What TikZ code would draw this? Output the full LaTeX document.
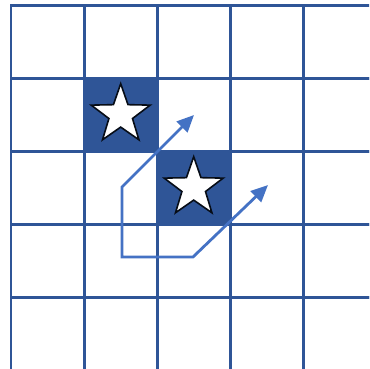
\documentclass[tikz,border=0pt]{standalone}
\usetikzlibrary{matrix,shapes.geometric,arrows.meta}

\definecolor{gridblue}{HTML}{2F5597}
\definecolor{moveblue}{HTML}{4472C4}

\begin{document}
\begin{tikzpicture}[x=1pt,y=-1pt,
    starmark/.style={star, star points=5, star point ratio=2.5,
        minimum size=62pt, inner sep=0pt, fill=white, draw=black!85!gridblue, line width=1.6pt},
    move/.style={draw=moveblue, line width=2.8pt, line join=miter,
        {Triangle[length=17pt,width=15pt]}-{Triangle[length=17pt,width=15pt]}}]
\useasboundingbox (0,0) rectangle (369,369);
\clip (0,0) rectangle (369,369);

    % Board
\matrix (G) [matrix of nodes, nodes in empty cells, inner sep=0pt,
nodes={minimum size=73pt, draw=gridblue, line width=2.6pt, outer sep=0pt, inner sep=0pt},
column sep=-2.6pt, row sep=-2.6pt, anchor=north west] at (9.7,3.7)
{
    {} & {} & {} & {} & {} \\
    {} & |[fill=gridblue]| {} & {} & {} & {} \\
    {} & {} & |[fill=gridblue]| {} & {} & {} \\
    {} & {} & {} & {} & {} \\
    {} & {} & {} & {} & {} \\
};

    % Stars on the two filled squares
\node[starmark] (S1) at (G-2-2) {};
\node[starmark] (S2) at (G-3-3) {};

    % Moves
\coordinate (base) at (122,257);
\coordinate (bendA) at (122,187);
\coordinate (tipA) at (194,115);
\coordinate (bendB) at (193,257);
\coordinate (tipB) at (268,185);
\draw[move] (tipA) -- (bendA) -- (base) -- (bendB) -- (tipB);

\end{tikzpicture}
\end{document}
